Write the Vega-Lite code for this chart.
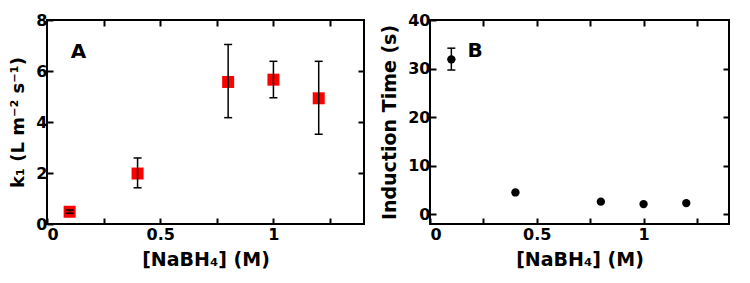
{
  "$schema": "https://vega.github.io/schema/vega-lite/v6.json",
  "padding": {"left": 8, "top": 11, "right": 10, "bottom": 5},
  "background": "white",
  "spacing": 13,
  "config": {
    "view": {"stroke": "black", "strokeWidth": 2},
    "axis": {
      "domain": false, "grid": false, "zindex": 1,
      "ticks": true, "tickColor": "black", "tickOpacity": 1, "tickWidth": 2, "tickSize": 6, "offset": -6,
      "labelFont": "DejaVu Sans", "labelFontWeight": "bold", "labelFontSize": 16, "labelColor": "black",
      "titleFont": "DejaVu Sans", "titleFontWeight": "bold", "titleFontSize": 19, "titleColor": "black"
    },
    "tick": {"color": "black", "opacity": 1},
    "rule": {"color": "black", "opacity": 1}
  },
  "datasets": {
    "a": [
      {"x": 0.1, "k": 0.48, "lo": 0.42, "hi": 0.55},
      {"x": 0.4, "k": 1.98, "lo": 1.42, "hi": 2.59},
      {"x": 0.8, "k": 5.57, "lo": 4.17, "hi": 7.04},
      {"x": 1.0, "k": 5.66, "lo": 4.95, "hi": 6.38},
      {"x": 1.2, "k": 4.93, "lo": 3.52, "hi": 6.38}
    ],
    "b": [
      {"x": 0.1, "t": 31.9, "lo": 29.7, "hi": 34.2},
      {"x": 0.4, "t": 4.5, "lo": null, "hi": null},
      {"x": 0.8, "t": 2.6, "lo": null, "hi": null},
      {"x": 1.0, "t": 2.1, "lo": null, "hi": null},
      {"x": 1.2, "t": 2.3, "lo": null, "hi": null}
    ]
  },
  "hconcat": [
    {
      "width": 317, "height": 204,
      "resolve": {"axis": {"x": "independent", "y": "independent"}},
      "layer": [
        {
          "data": {"name": "a"},
          "mark": {"type": "square", "size": 144, "color": "#ff0000", "opacity": 1},
          "encoding": {
            "x": {"field": "x", "type": "quantitative", "scale": {"domain": [0, 1.4], "nice": false},
              "axis": {"orient": "bottom", "values": [0, 0.25, 0.5, 0.75, 1, 1.25], "format": "~g",
                "labelExpr": "datum.value == 0 || datum.value == 0.5 || datum.value == 1 ? datum.label : ''",
                "labelPadding": 2, "title": "[NaBH₄] (M)", "titlePadding": 8}},
            "y": {"field": "k", "type": "quantitative", "scale": {"domain": [0, 8], "nice": false},
              "axis": {"orient": "left", "values": [0, 2, 4, 6, 8], "labelPadding": 0,
                "title": "k₁ (L m⁻² s⁻¹)", "titleFontSize": 18, "titlePadding": 8}}
          }
        },
        {
          "data": {"name": "a"},
          "mark": {"type": "rule", "strokeWidth": 1.5},
          "encoding": {
            "x": {"field": "x", "type": "quantitative", "axis": null},
            "y": {"field": "lo", "type": "quantitative", "axis": null},
            "y2": {"field": "hi"}
          }
        },
        {
          "data": {"name": "a"},
          "mark": {"type": "tick", "size": 8, "thickness": 1.5, "orient": "horizontal"},
          "encoding": {
            "x": {"field": "x", "type": "quantitative", "axis": null},
            "y": {"field": "lo", "type": "quantitative", "axis": null}
          }
        },
        {
          "data": {"name": "a"},
          "mark": {"type": "tick", "size": 8, "thickness": 1.5, "orient": "horizontal"},
          "encoding": {
            "x": {"field": "x", "type": "quantitative", "axis": null},
            "y": {"field": "hi", "type": "quantitative", "axis": null}
          }
        },
        {
          "data": {"name": "a"},
          "mark": {"type": "point", "opacity": 0},
          "encoding": {
            "x": {"field": "x", "type": "quantitative",
              "axis": {"orient": "top", "values": [0.25, 0.5, 0.75, 1, 1.25], "labels": false, "title": null}},
            "y": {"field": "k", "type": "quantitative",
              "axis": {"orient": "right", "values": [2, 4, 6], "labels": false, "title": null}}
          }
        },
        {
          "data": {"values": [{}]},
          "mark": {"type": "text", "text": "A", "font": "DejaVu Sans", "fontWeight": "bold", "fontSize": 20, "align": "left", "baseline": "middle", "color": "black"},
          "encoding": {
            "x": {"datum": 0.105, "type": "quantitative", "axis": null},
            "y": {"datum": 6.75, "type": "quantitative", "axis": null}
          }
        }
      ]
    },
    {
      "width": 299, "height": 204,
      "resolve": {"axis": {"x": "independent", "y": "independent"}},
      "layer": [
        {
          "data": {"name": "b"},
          "mark": {"type": "circle", "size": 70, "color": "black", "opacity": 1},
          "encoding": {
            "x": {"field": "x", "type": "quantitative", "scale": {"domain": [0, 1.4], "nice": false},
              "axis": {"orient": "bottom", "values": [0, 0.25, 0.5, 0.75, 1, 1.25], "format": "~g",
                "labelExpr": "datum.value == 0 || datum.value == 0.5 || datum.value == 1 ? datum.label : ''",
                "labelPadding": 2, "title": "[NaBH₄] (M)", "titlePadding": 8}},
            "y": {"field": "t", "type": "quantitative", "scale": {"domain": [-2, 40], "nice": false},
              "axis": {"orient": "left", "values": [0, 10, 20, 30, 40], "labelPadding": 0,
                "title": "Induction Time (s)", "titlePadding": 8}}
          }
        },
        {
          "data": {"name": "b"},
          "transform": [{"filter": "isValid(datum.lo)"}],
          "mark": {"type": "rule", "strokeWidth": 1.5},
          "encoding": {
            "x": {"field": "x", "type": "quantitative", "axis": null},
            "y": {"field": "lo", "type": "quantitative", "axis": null},
            "y2": {"field": "hi"}
          }
        },
        {
          "data": {"name": "b"},
          "transform": [{"filter": "isValid(datum.lo)"}],
          "mark": {"type": "tick", "size": 8, "thickness": 1.5, "orient": "horizontal"},
          "encoding": {
            "x": {"field": "x", "type": "quantitative", "axis": null},
            "y": {"field": "lo", "type": "quantitative", "axis": null}
          }
        },
        {
          "data": {"name": "b"},
          "transform": [{"filter": "isValid(datum.hi)"}],
          "mark": {"type": "tick", "size": 8, "thickness": 1.5, "orient": "horizontal"},
          "encoding": {
            "x": {"field": "x", "type": "quantitative", "axis": null},
            "y": {"field": "hi", "type": "quantitative", "axis": null}
          }
        },
        {
          "data": {"name": "b"},
          "mark": {"type": "point", "opacity": 0},
          "encoding": {
            "x": {"field": "x", "type": "quantitative",
              "axis": {"orient": "top", "values": [0.25, 0.5, 0.75, 1, 1.25], "labels": false, "title": null}},
            "y": {"field": "t", "type": "quantitative",
              "axis": {"orient": "right", "values": [0, 10, 20, 30], "labels": false, "title": null}}
          }
        },
        {
          "data": {"values": [{}]},
          "mark": {"type": "text", "text": "B", "font": "DejaVu Sans", "fontWeight": "bold", "fontSize": 20, "align": "left", "baseline": "middle", "color": "black"},
          "encoding": {
            "x": {"datum": 0.175, "type": "quantitative", "axis": null},
            "y": {"datum": 33.6, "type": "quantitative", "axis": null}
          }
        }
      ]
    }
  ]
}
